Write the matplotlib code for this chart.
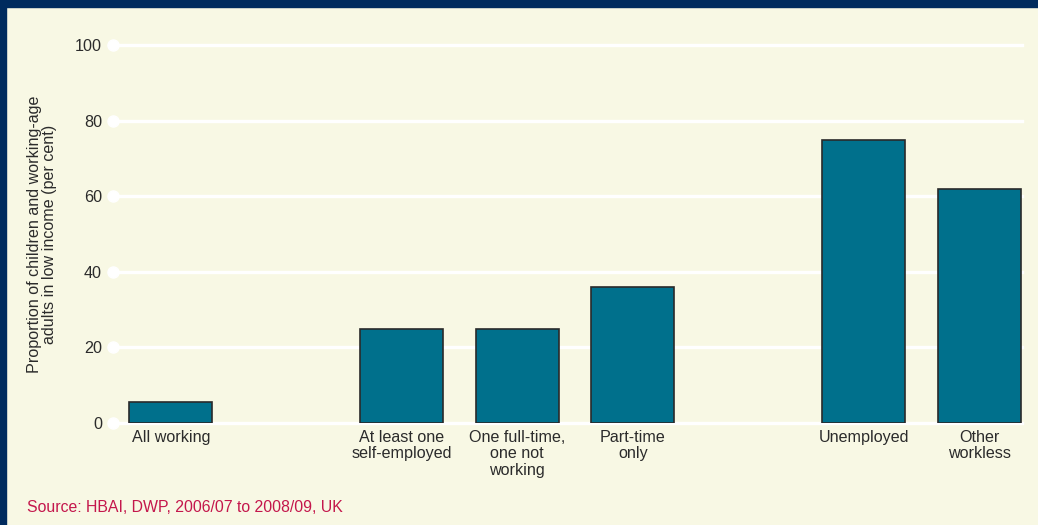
import matplotlib.pyplot as plt
from matplotlib.patches import Rectangle

categories = ['All working', 'At least one\nself-employed', 'One full-time,\none not\nworking',
              'Part-time\nonly', 'Unemployed', 'Other\nworkless']
positions = [0, 2, 3, 4, 6, 7]
values = [5.5, 25, 25, 36, 75, 62]
yticks = [0, 20, 40, 60, 80, 100]

bg = '#F8F8E4'
teal = '#00708C'
navy = '#002B5E'
red = '#C4174C'
txt = '#2b2b2b'
fs = 11.6

plt.rcParams['font.family'] = ['Liberation Sans', 'DejaVu Sans']

fig = plt.figure(figsize=(10.38, 5.25), dpi=100, facecolor=bg)
ax = fig.add_axes([113/1038, 1 - 423/525, (1022 - 113)/1038, (423 - 45)/525])
ax.set_facecolor(bg)

# frame: navy band at top and a thin border on the left
fig.patches.append(Rectangle((0, 1 - 7/525), 1, 7/525, transform=fig.transFigure,
                             color=navy, zorder=0))
fig.patches.append(Rectangle((0, 0), 6/1038, 1, transform=fig.transFigure,
                             color=navy, zorder=0))

xmin, xmax = -0.5, 7.37
for t in yticks:
    ax.plot([xmin, xmax], [t, t], color='white', lw=2.4, zorder=1, clip_on=False)
    ax.plot([xmin], [t], 'o', color='white', ms=8, zorder=1, clip_on=False)

ax.bar(positions, values, width=0.72, color=teal, edgecolor='#2a2a2a', lw=1.2, zorder=2)

ax.set_xlim(xmin, xmax)
ax.set_ylim(0, 100)
ax.set_yticks(yticks)
ax.set_yticklabels([str(t) for t in yticks], fontsize=fs, color=txt)
ax.tick_params(axis='y', length=0, pad=8)
ax.set_xticks(positions)
ax.set_xticklabels(categories, fontsize=fs, color=txt, linespacing=1.12)
ax.tick_params(axis='x', length=0, pad=5)
for s in ax.spines.values():
    s.set_visible(False)

ax.set_ylabel('Proportion of children and working-age\nadults in low income (per cent)',
              fontsize=fs, color=txt, linespacing=1.0, labelpad=13)

fig.text(27/1038, 1 - 508/525, 'Source: HBAI, DWP, 2006/07 to 2008/09, UK',
         fontsize=11.4, color=red, va='center', ha='left')

fig.savefig('out.png', dpi=100, facecolor=bg)
